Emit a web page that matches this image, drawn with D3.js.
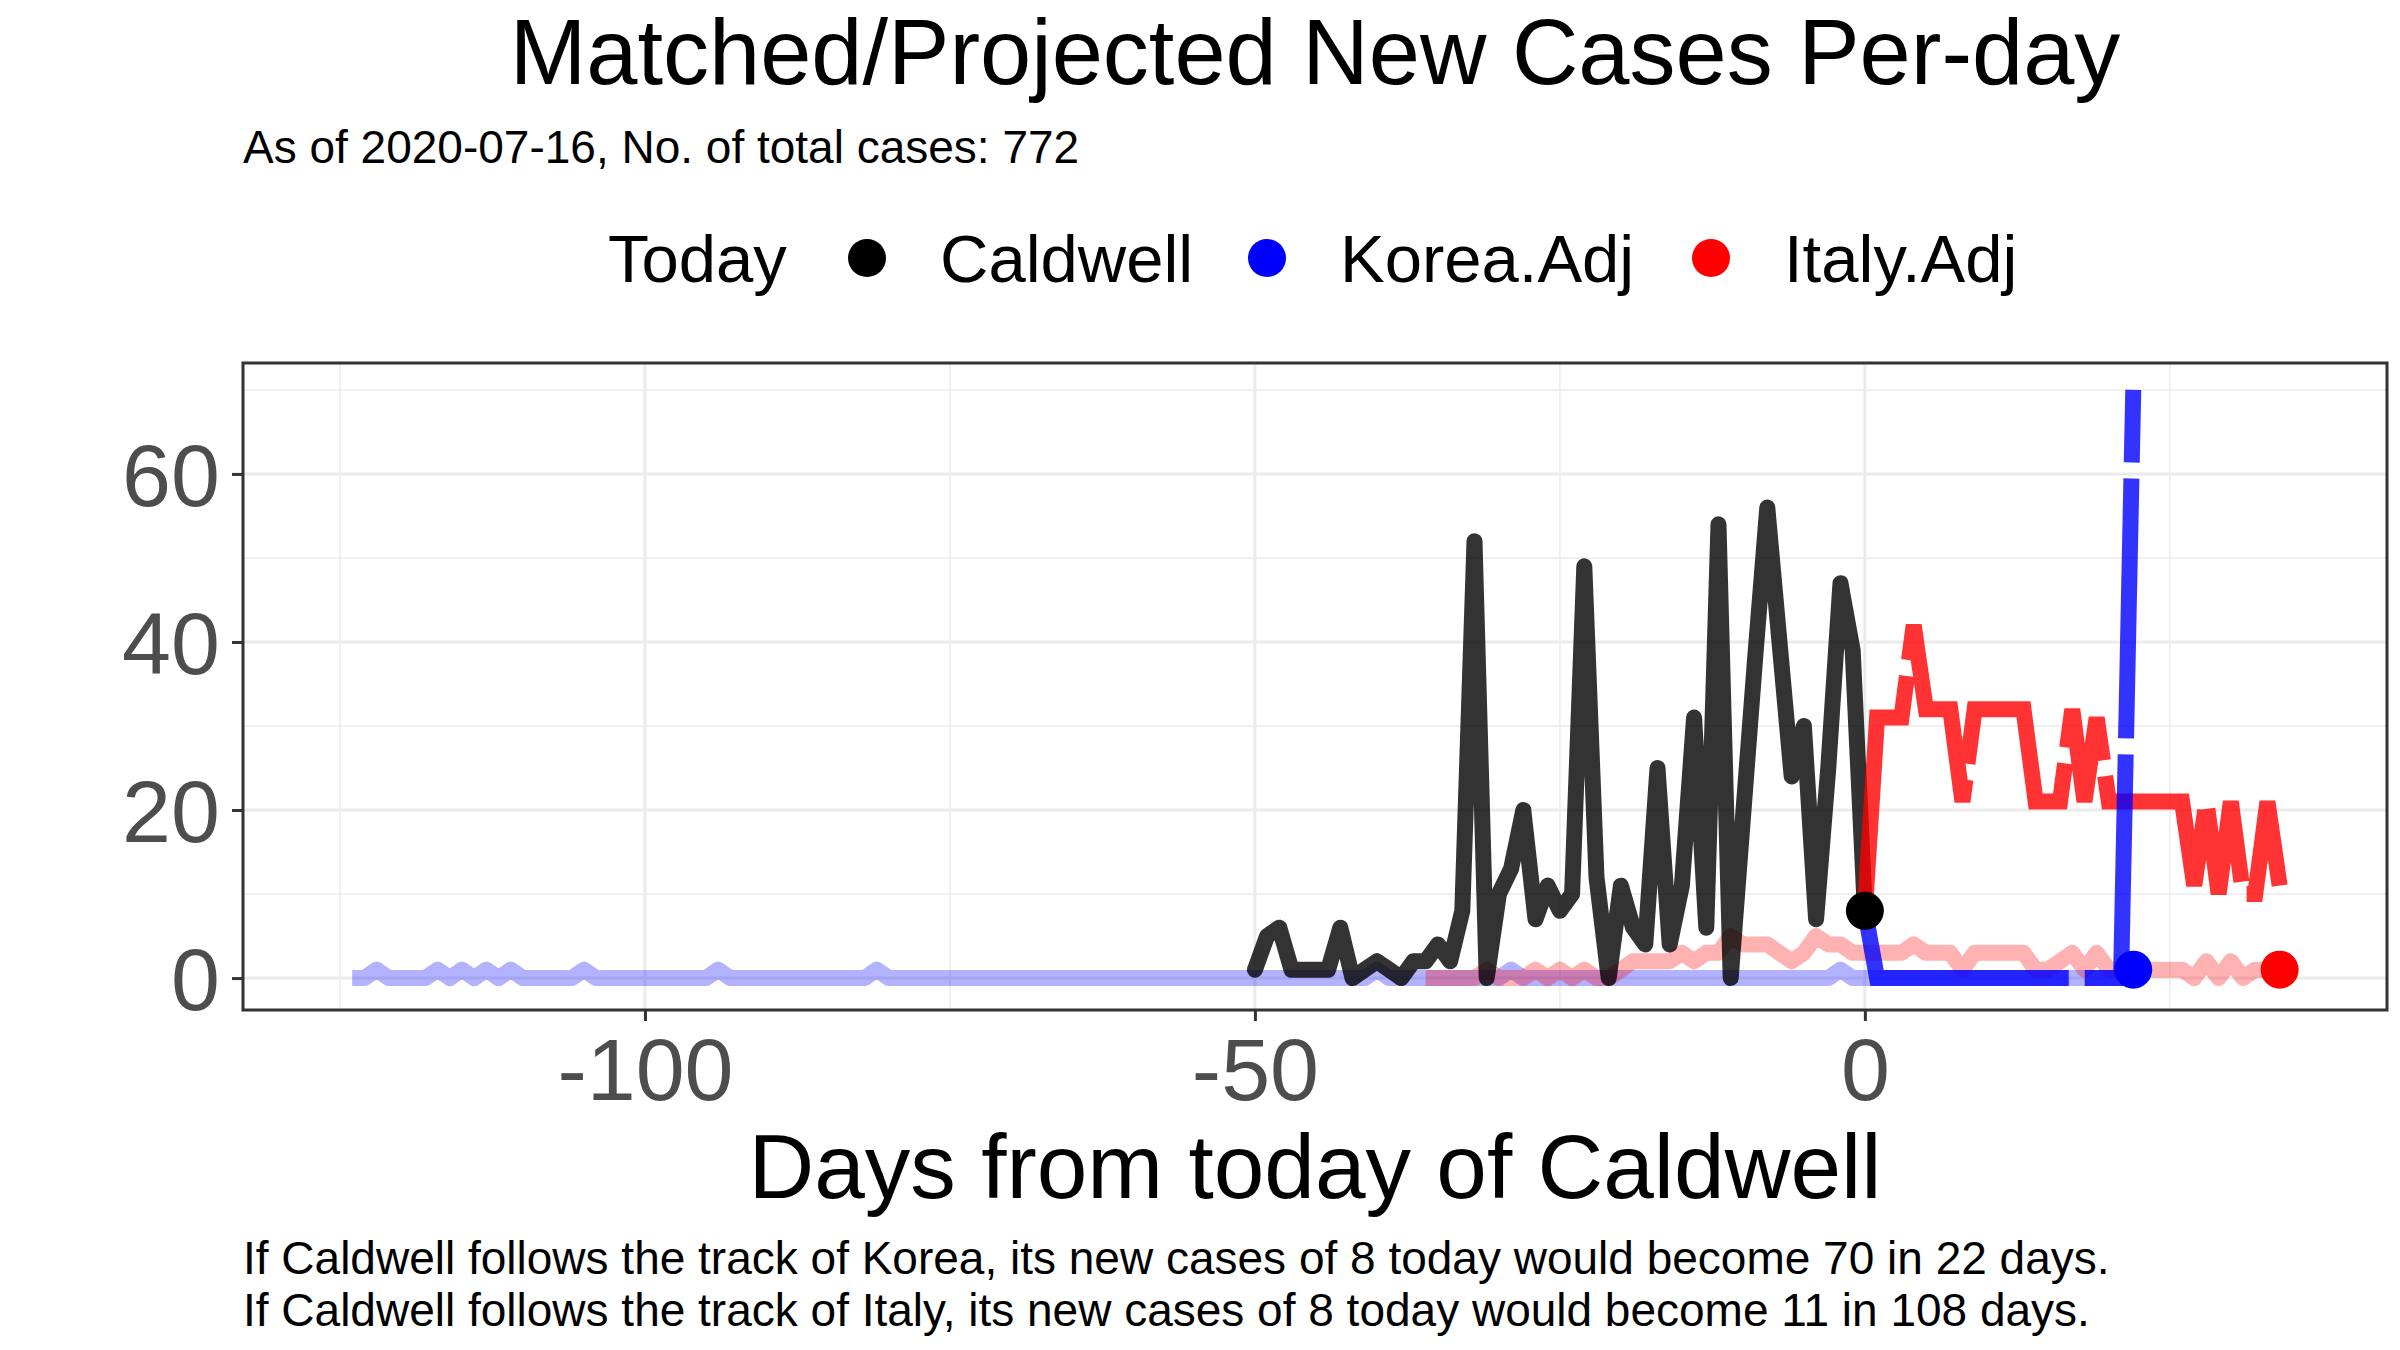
<!DOCTYPE html>
<html>
<head>
<meta charset="utf-8">
<script src="https://cdn.jsdelivr.net/npm/d3@7"></script>
<style>
  body { margin: 0; background: #fff; }
  text { font-family: "Liberation Sans", Arial, sans-serif; }
</style>
</head>
<body>
<div id="chart"></div>
<script>
const width = 2400;
const height = 1350;

// Caldwell new cases, days -50..0
const caldwellDays = d3.range(-50, 1);
const caldwellValues = [1, 5, 6, 1, 1, 1, 1, 6, 0, 1, 2, 1, 0, 2, 2, 4, 2, 8, 52, 0,
  10, 13, 20, 7, 11, 8, 10, 49, 12, 0, 11, 6, 4, 25, 4, 11, 31, 6, 54, 0,
  19, 38, 56, 40, 24, 30, 7, 25, 47, 39, 8];

// Korea.Adj matched history (faint), days -124..22
const koreaDays = d3.range(-124, 23);
const koreaBumpDays = [-122, -117, -115, -113, -111, -105, -94, -81, -40, -29, -2];
const koreaValues = koreaDays.map(d => koreaBumpDays.includes(d) ? 1 : 0);

// Italy.Adj matched history (faint), days -36..34
const italyDays = d3.range(-36, 35);
const italyValues = [0, 0, 0, 0, 0, 1, 0, 0, 0, 1, 0, 1, 0, 1, 0, 0, 1, 2, 2, 2,
  2, 3, 2, 3, 3, 5, 4, 4, 4, 3, 2, 3, 5, 4, 4, 3,
  3, 3, 3, 3, 4, 3, 3, 3, 1, 3, 3, 3, 3, 3, 1, 1, 2, 3, 1, 3,
  1, 1, 1, 1, 1, 1, 1, 0, 2, 0, 2, 0, 1, 1, 1];

// Projections from today
const koreaProjDays = d3.range(0, 23);
const koreaProjValues = [8, 0, 0, 0, 0, 0, 0, 0, 0, 0, 0, 0, 0, 0, 0, 0, 0, 0, 0, 0, 0, 0, 70];
const italyProjDays = d3.range(0, 35);
const italyProjValues = [8, 31, 31, 31, 42, 32, 32, 32, 21, 32, 32, 32, 32, 32, 21, 21, 21, 32,
  21, 31, 21, 21, 21, 21, 21, 21, 21, 11, 21, 10, 21, 10, 10, 21, 11];

// "Today" markers
const todayPoints = [
  { series: "Caldwell", day: 0, value: 8 },
  { series: "Korea.Adj", day: 22, value: 1 },
  { series: "Italy.Adj", day: 34, value: 1 },
];

const seriesNames = ["Caldwell", "Korea.Adj", "Italy.Adj"];
const colour = d3.scaleOrdinal().domain(seriesNames).range(["#000000", "#0000FF", "#FF0000"]);

const xTicks = [-100, -50, 0];
const xMinor = [-125, -75, -25, 25];
const yTicks = [0, 20, 40, 60];
const yMinor = [10, 30, 50, 70];

const panel = { left: 243, right: 2387, top: 363, bottom: 1010 };
const x = d3.scaleLinear().domain([-132.95, 42.8]).range([panel.left, panel.right]);
const y = d3.scaleLinear().domain([-3.8, 73.2]).range([panel.bottom, panel.top]);

const svg = d3.create("svg").attr("width", width).attr("height", height);
svg.append("rect").attr("width", width).attr("height", height).attr("fill", "#fff");

// grid
const grid = svg.append("g");
grid.selectAll(".xm").data(xMinor).join("line")
  .attr("x1", d => x(d)).attr("x2", d => x(d)).attr("y1", panel.top).attr("y2", panel.bottom)
  .attr("stroke", "#EBEBEB").attr("stroke-width", 1.5);
grid.selectAll(".ym").data(yMinor).join("line")
  .attr("y1", d => y(d)).attr("y2", d => y(d)).attr("x1", panel.left).attr("x2", panel.right)
  .attr("stroke", "#EBEBEB").attr("stroke-width", 1.5);
grid.selectAll(".xM").data(xTicks).join("line")
  .attr("x1", d => x(d)).attr("x2", d => x(d)).attr("y1", panel.top).attr("y2", panel.bottom)
  .attr("stroke", "#EBEBEB").attr("stroke-width", 3);
grid.selectAll(".yM").data(yTicks).join("line")
  .attr("y1", d => y(d)).attr("y2", d => y(d)).attr("x1", panel.left).attr("x2", panel.right)
  .attr("stroke", "#EBEBEB").attr("stroke-width", 3);

const line = d3.line().x(d => x(d[0])).y(d => y(d[1]));
const zip = (a, b) => a.map((d, i) => [d, b[i]]);

const plot = svg.append("g").attr("fill", "none").attr("stroke-linejoin", "round");
plot.append("path").datum(zip(koreaDays, koreaValues)).attr("d", line)
  .attr("stroke", colour("Korea.Adj")).attr("stroke-opacity", 0.3).attr("stroke-width", 16);
plot.append("path").datum(zip(italyDays, italyValues)).attr("d", line)
  .attr("stroke", colour("Italy.Adj")).attr("stroke-opacity", 0.3).attr("stroke-width", 16);
plot.append("path").datum(zip(caldwellDays, caldwellValues)).attr("d", line)
  .attr("stroke", colour("Caldwell")).attr("stroke-opacity", 0.8).attr("stroke-width", 16)
  .attr("stroke-linecap", "round");
plot.append("path").datum(zip(italyProjDays, italyProjValues)).attr("d", line)
  .attr("stroke", colour("Italy.Adj")).attr("stroke-opacity", 0.8).attr("stroke-width", 16)
  .attr("stroke-linejoin", "miter").attr("stroke-dasharray", "260,16");
plot.append("path").datum(zip(koreaProjDays, koreaProjValues)).attr("d", line)
  .attr("stroke", colour("Korea.Adj")).attr("stroke-opacity", 0.8).attr("stroke-width", 16)
  .attr("stroke-linejoin", "miter").attr("stroke-dasharray", "260,16");

svg.append("g").selectAll("circle").data(todayPoints).join("circle")
  .attr("cx", d => x(d.day)).attr("cy", d => y(d.value)).attr("r", 19)
  .attr("fill", d => colour(d.series));

// panel border
svg.append("rect").attr("x", panel.left).attr("y", panel.top)
  .attr("width", panel.right - panel.left).attr("height", panel.bottom - panel.top)
  .attr("fill", "none").attr("stroke", "#333").attr("stroke-width", 3);

// axes (hyphen minus as in the original)
const fmt = d => String(d);
const xAxis = svg.append("g").attr("transform", `translate(0,${panel.bottom})`)
  .call(d3.axisBottom(x).tickValues(xTicks).tickFormat(fmt).tickSize(11).tickPadding(10));
const yAxis = svg.append("g").attr("transform", `translate(${panel.left},0)`)
  .call(d3.axisLeft(y).tickValues(yTicks).tickFormat(fmt).tickSize(11).tickPadding(12));
[xAxis, yAxis].forEach(a => {
  a.select(".domain").remove();
  a.selectAll(".tick line").attr("stroke", "#333").attr("stroke-width", 3);
  a.selectAll(".tick text").attr("fill", "#4D4D4D").attr("font-size", 88)
    .attr("font-family", "Liberation Sans, Arial, sans-serif");
});
xAxis.selectAll(".tick text").attr("dy", "0.78em");
yAxis.selectAll(".tick text").attr("dy", "0.36em");

// titles
svg.append("text").attr("x", 1315).attr("y", 84).attr("text-anchor", "middle")
  .attr("font-size", 92).text("Matched/Projected New Cases Per-day");
svg.append("text").attr("x", 243).attr("y", 163).attr("font-size", 46)
  .text("As of 2020-07-16, No. of total cases: 772");
svg.append("text").attr("x", 1315).attr("y", 1198).attr("text-anchor", "middle")
  .attr("font-size", 91).text("Days from today of Caldwell");
svg.append("text").attr("x", 243).attr("y", 1274).attr("font-size", 46)
  .text("If Caldwell follows the track of Korea, its new cases of 8 today would become 70 in 22 days.");
svg.append("text").attr("x", 243).attr("y", 1326).attr("font-size", 46)
  .text("If Caldwell follows the track of Italy, its new cases of 8 today would become 11 in 108 days.");

// legend
const legend = svg.append("g").attr("font-size", 67);
legend.append("text").attr("x", 608).attr("y", 282).text("Today");
const legendX = [867, 1267, 1711];
seriesNames.forEach((s, i) => {
  legend.append("circle").attr("cx", legendX[i]).attr("cy", 258).attr("r", 19).attr("fill", colour(s));
  legend.append("text").attr("x", legendX[i] + 73).attr("y", 282).text(s);
});

document.querySelector("#chart").append(svg.node());
</script>
</body>
</html>
